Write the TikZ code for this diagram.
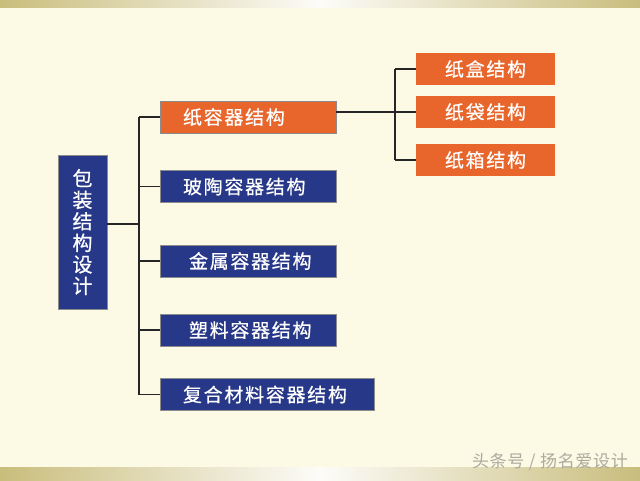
\documentclass[tikz,border=0pt]{standalone}
\usepackage{fontspec}
\newfontfamily\cjk[LetterSpace=9,FakeBold=0.6]{Noto Sans CJK SC}
\newfontfamily\cjkroot[FakeBold=0.6]{Noto Sans CJK SC}
\newfontfamily\cjkmark[LetterSpace=4]{Noto Sans CJK SC}
\definecolor{cream}{RGB}{252,250,228}
\definecolor{gold}{RGB}{201,189,124}
\definecolor{navy}{RGB}{40,56,136}
\definecolor{rust}{RGB}{232,102,44}
\definecolor{markgray}{RGB}{172,170,158}
\tikzset{
  link/.style={draw=black!85, line width=1.1pt},
  catbox/.style={draw=black!45, line width=0.4pt, text=white, font=\cjk\fontsize{19}{21}\selectfont,
    minimum height=32pt, inner xsep=23pt, align=left},
  blue/.style={catbox, fill=navy},
  red/.style={catbox, fill=rust},
  subbox/.style={catbox, fill=rust, draw=none, align=center, minimum width=139pt, inner xsep=0pt}
}
\begin{document}
\begin{tikzpicture}[x=1pt, y=-1pt]
    \useasboundingbox (0,0) rectangle (640,480);
    % 背景
    \fill[cream] (0,0) rectangle (640,480);
    \shade[left color=gold, right color=gold, middle color=white!95!gold] (0,0) rectangle (640,7);
    \shade[left color=gold, right color=gold, middle color=white!95!gold] (0,467) rectangle (640,480);

    % 主框
    \node[blue, minimum width=49pt, minimum height=154pt, inner xsep=0pt, align=center,
      font=\cjkroot\fontsize{20}{21.5}\selectfont] (root) at (82.5,232)
      {包\\装\\结\\构\\设\\计};

    % 分类
    \node[red,  text width=130pt] (paper)     at (248,117) {纸容器结构};
    \node[blue, text width=130pt] (glass)     at (248,186.5) {玻陶容器结构};
    \node[blue, text width=130pt] (metal)     at (248,261) {\hspace{6pt}金属容器结构};
    \node[blue, text width=130pt] (plastic)   at (248,330) {\hspace{6pt}塑料容器结构};
    \node[blue, text width=168pt] (composite) at (267,394.5) {复合材料容器结构};

    % 纸容器
    \node[subbox] (box)    at (485.5,69)  {纸盒结构};
    \node[subbox] (bag)    at (485.5,112) {纸袋结构};
    \node[subbox] (carton) at (485.5,160) {纸箱结构};

    % 连线
    \coordinate (trunk) at (139,224);
    \coordinate (fork) at (395,112);
    \draw[link] (root.east |- trunk) -- (trunk);
    \draw[link] (trunk |- paper) -- (trunk |- composite);
    \foreach \n in {paper, glass, metal, plastic, composite}
      \draw[link] (trunk |- \n) -- (\n.west);
    \draw[link] (paper.east |- bag) -- (bag.west);
    \draw[link] (fork |- box) -- (fork |- carton);
    \draw[link] (fork |- box) -- (box.west);
    \draw[link] (fork |- carton) -- (carton.west);

    \node[anchor=east, text=markgray, inner sep=0pt, font=\cjkmark\fontsize{17}{18}\selectfont]
      (mark) at (628,462) {头条号 / 扬名爱设计};
  \end{tikzpicture}
\end{document}
